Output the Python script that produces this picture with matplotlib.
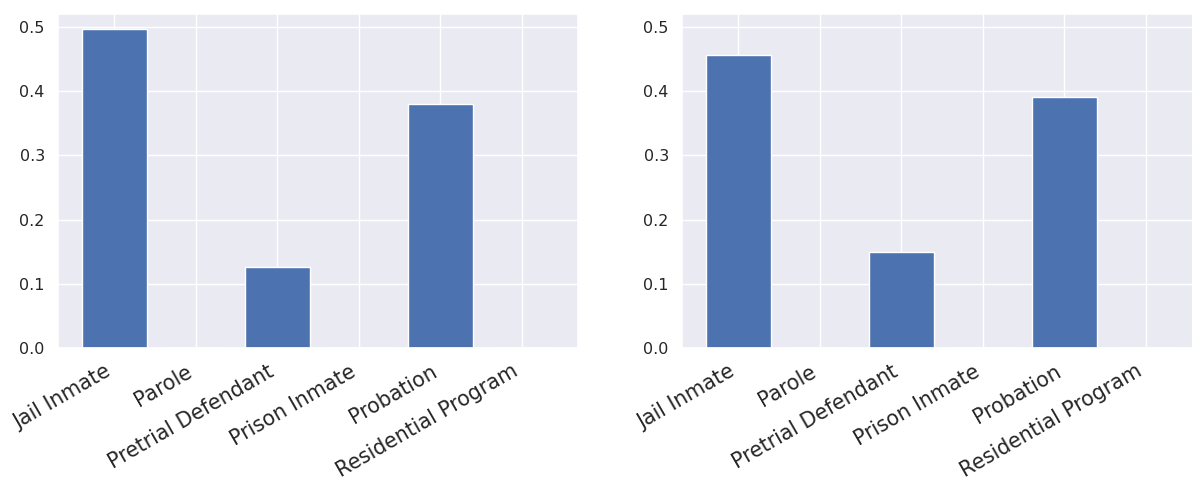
import numpy as np
import matplotlib
matplotlib.use('Agg')
import matplotlib.pyplot as plt
import seaborn as sns

sns.set_theme(style='darkgrid')

categories = ['Jail Inmate', 'Parole', 'Pretrial Defendant', 'Prison Inmate',
              'Probation', 'Residential Program']
left_values = [0.497, 0.0, 0.126, 0.0, 0.380, 0.0]
right_values = [0.456, 0.0, 0.150, 0.0, 0.391, 0.0]

fig, (ax1, ax2) = plt.subplots(1, 2, figsize=(11.92, 4.78), dpi=100)
x = np.arange(len(categories))
for ax, vals in ((ax1, left_values), (ax2, right_values)):
    ax.bar(x, vals, width=0.8, color='#4c72b0', edgecolor='white', linewidth=1)
    ax.set_xticks(x)
    ax.set_xticklabels(categories, rotation=30, ha='right', fontsize=14.8)
    ax.set_ylim(0, 0.52)
    ax.set_yticks([0.0, 0.1, 0.2, 0.3, 0.4, 0.5])
    ax.tick_params(axis='y', labelsize=11.5)

# right panel runs past the edge of the figure, as in the original
fig.subplots_adjust(left=0.0487, right=1.0084, top=0.9707, bottom=0.272, wspace=0.2)
fig.savefig('out.png')
